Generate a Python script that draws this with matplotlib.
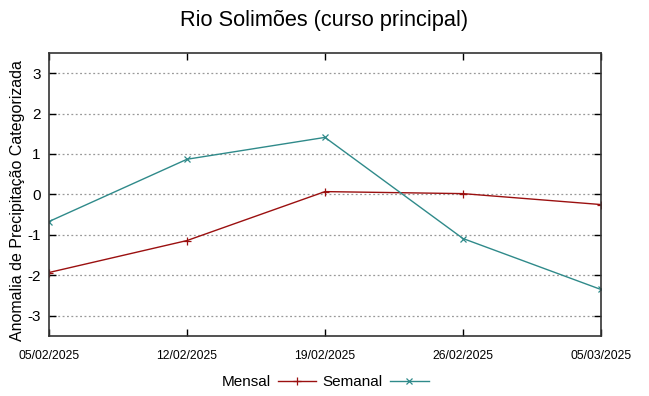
# gnuplot-like line chart of categorized precipitation anomaly
import matplotlib.pyplot as plt

plt.rcParams['font.family'] = ['Liberation Sans', 'DejaVu Sans']

# data
datas = ['05/02/2025', '12/02/2025', '19/02/2025', '26/02/2025', '05/03/2025']
mensal = [-1.93, -1.14, 0.07, 0.02, -0.25]
semanal = [-0.67, 0.87, 1.41, -1.09, -2.35]
yticks = [-3, -2, -1, 0, 1, 2, 3]

fig = plt.figure(figsize=(6.49, 3.96), dpi=100)
ax = fig.add_axes([0.0755, 0.1515, 0.8505, 0.715])

x = list(range(len(datas)))
ax.plot(x, mensal, color='#9b1010', lw=1.0, marker='+', ms=6, mew=0.9, label='Mensal')
ax.plot(x, semanal, color='#2f8a8a', lw=1.0, marker='x', ms=5, mew=0.9, label='Semanal')

ax.set_xlim(0, len(datas) - 1)
ax.set_ylim(-3.5, 3.5)
ax.set_xticks(x)
ax.set_xticklabels(datas, fontsize=8.8)
ax.set_yticks(yticks)
ax.set_yticklabels([str(v) for v in yticks], fontsize=11)
ax.tick_params(direction='in', top=True, right=True, length=5, width=1, pad=6)
ax.tick_params(axis='x', pad=10)
ax.yaxis.grid(True, linestyle=(0, (1.5, 2)), color='#999999', lw=0.9)
for s in ax.spines.values():
  s.set_linewidth(1.2)
  s.set_color('#333333')

ax.set_ylabel('Anomalia de Precipitação Categorizada', fontsize=11.5)
ax.yaxis.set_label_coords(-0.043, 0.477)
fig.suptitle('Rio Solimões (curso principal)', fontsize=15.7, y=0.975)

ax.legend(loc='center', bbox_to_anchor=(0.5, -0.163), ncol=2, frameon=False,
          markerfirst=False, fontsize=11, handlelength=2.5, columnspacing=0.4,
          handletextpad=0.5)

fig.savefig('out.png', dpi=100)
